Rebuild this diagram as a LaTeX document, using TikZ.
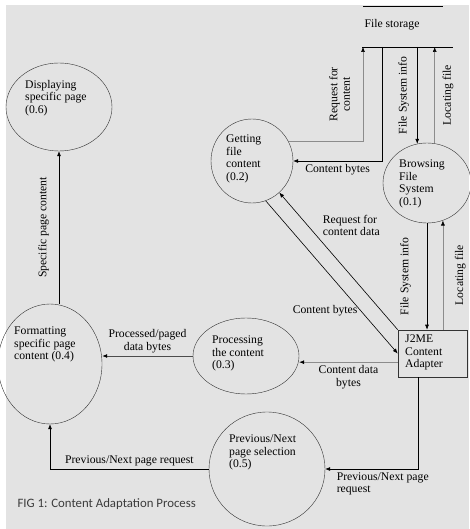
\documentclass[tikz,border=0pt]{standalone}
\usepackage{fontspec}
\setmainfont{Liberation Serif}
\newfontfamily\capfont{Carlito}
\usetikzlibrary{shapes.geometric,arrows.meta}
\definecolor{paper}{HTML}{E3E3E3}
\definecolor{capgray}{HTML}{3C3C3C}

\begin{document}
\begin{tikzpicture}[x=1pt, y=-1pt,
  font=\fontsize{11.7}{12.5}\selectfont,
  proc/.style={ellipse, draw=black!80, thin, inner sep=0pt},
  ptext/.style={anchor=north west, align=left, inner sep=0pt},
  flow/.style={draw=black, line width=0.6pt, -{Latex[length=5pt,width=4pt,black]}},
  gflow/.style={flow, draw=black!45},
  lbl/.style={align=center, inner sep=3pt},
  vlbl/.style={rotate=90, align=center, inner sep=3pt, outer sep=#1},
  vlbl/.default=4pt]

  \useasboundingbox (0,0) rectangle (469,529);
  \fill[white] (0,0) rectangle (469,529);
  \fill[paper] (6,5) rectangle (469,529);

  % --- File storage ---
  \draw[line width=0.7pt] (363,6) -- (443,6);
  \draw[line width=0.7pt] (362,47) -- (453,47);
  \node (storage) at (392,25) {File storage};
  \coordinate (sreq) at (363,47);
  \coordinate (sbyte) at (382,47);

  % --- Processes ---
  \node[proc, minimum width=106, minimum height=88] (disp) at (59,107) {};
  \node[ptext] (disptext) at (25,80) {Displaying\\specific page\\(0.6)};

  \node[proc, minimum width=82, minimum height=84] (getting) at (252,161) {};
  \node[ptext] (gettingtext) at (226,135) {Getting\\file\\content\\(0.2)};

  \node[proc, minimum width=88, minimum height=80] (browsing) at (427,183) {};
  \node[ptext] (browsingtext) at (399,160) {Browsing\\File\\System\\(0.1)};

  \node[proc, minimum width=104, minimum height=120] (format) at (50,364) {};
  \node[ptext] (formattext) at (14,327) {Formatting\\specific page\\content (0.4)};

  \node[proc, minimum width=106, minimum height=76] (process) at (246,356) {};
  \node[ptext] (processtext) at (212,336) {Processing\\the content\\(0.3)};

  \node[proc, minimum width=116, minimum height=114] (select) at (267,469) {};
  \node[ptext] (selecttext) at (229,435) {Previous/Next\\page selection\\(0.5)};

  \node[draw=black!80, line width=0.6pt, minimum width=69, minimum height=47,
        inner sep=0pt] (adapter) at (432.5,353.5) {};
  \node[ptext] (adaptertext) at (405,335) {J2ME\\Content\\Adapter};

  % --- storage <-> getting ---
  \draw[gflow] (getting.28) -| (sreq)
        node[pos=0.75, anchor=south, vlbl=10pt] {Request for\\content};
  \draw[flow] (sbyte) |- (getting.east)
        node[pos=0.75, below, lbl] {Content bytes};

  % --- storage <-> browsing ---
  \draw[flow] (browsing.104 |- sreq) -- (browsing.104)
        node[midway, anchor=south, vlbl=5pt] {File System info};
  \draw[gflow] (browsing.79) -- (browsing.79 |- sreq)
        node[midway, anchor=north, vlbl=5pt] {Locating file};

  % --- browsing <-> adapter ---
  \draw[flow] (browsing.south) -- (browsing.south |- adapter.north)
        node[midway, anchor=south, vlbl=13pt] {File System info};
  \draw[gflow] (browsing.-67 |- adapter.north) -- (browsing.-67)
        node[midway, anchor=north, vlbl=9pt] {Locating file};

  % --- getting <-> adapter ---
  \draw[flow] (adapter.north west) -- (getting)
        node[pos=0.66, anchor=south west, lbl, align=left] {Request for\\content data};
  \draw[flow] (getting.-71) -- (adapter.west)
        node[pos=0.72, anchor=east, lbl] {Content bytes};

  % --- adapter -> process -> format ---
  \draw[gflow] (adapter.194) -- (adapter.194 -| process.east)
        node[midway, below, lbl] {Content data\\bytes};
  \draw[flow, draw=black!70, line width=0.8pt] (process.west) -- (process.west -| format.east)
        node[midway, above, lbl] {Processed/paged\\data bytes};

  % --- adapter -> select -> format ---
  \draw[flow] ([xshift=-14.5]adapter.south) |- (select.east)
        node[pos=0.69, below, lbl, align=left] {Previous/Next page\\request};
  \draw[flow] (select.west) -| (format.south)
        node[pos=0.25, above, lbl] {Previous/Next page request};

  % --- format -> disp ---
  \draw[flow] (disp.south |- format.north) -- (disp.south)
        node[midway, anchor=south, vlbl=7pt] {Specific page content};

  % --- caption ---
  \node[anchor=west, text=capgray, font=\capfont\fontsize{12.8}{14}\selectfont]
        (caption) at (14,504) {FIG 1: Content Adaptation Process};

\end{tikzpicture}
\end{document}
